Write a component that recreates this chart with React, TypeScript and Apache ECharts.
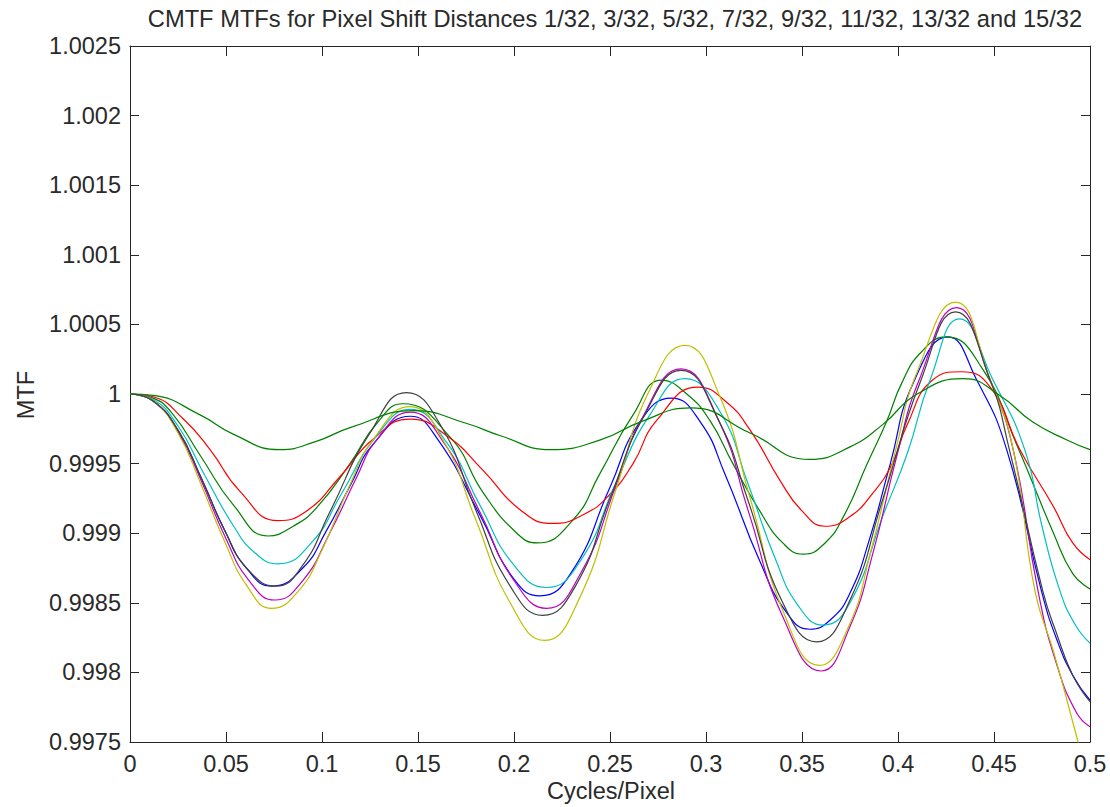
import React, { useEffect, useRef } from 'react';
import * as echarts from 'echarts';

const titleText = 'CMTF MTFs for Pixel Shift Distances 1/32, 3/32, 5/32, 7/32, 9/32, 11/32, 13/32 and 15/32';
const xAxisTitle = 'Cycles/Pixel';
const yAxisTitle = 'MTF';

const xTickLabels = ['0', '0.05', '0.1', '0.15', '0.2', '0.25', '0.3', '0.35', '0.4', '0.45', '0.5'];
const yTickLabels = ['0.9975', '0.998', '0.9985', '0.999', '0.9995', '1', '1.0005', '1.001', '1.0015', '1.002', '1.0025'];

type Pt = [number, number];

const greenFlat: Pt[] = [
  [0, 1], [0.012, 0.99999], [0.0365, 0.99985], [0.054, 0.99971], [0.078, 0.9996], [0.097, 0.99966],
  [0.115, 0.99976], [0.148, 0.99988], [0.175, 0.99979], [0.193, 0.9997], [0.219, 0.9996], [0.245, 0.99967],
  [0.266, 0.9998], [0.292, 0.9999], [0.323, 0.99972], [0.354, 0.99953], [0.375, 0.99962], [0.392, 0.99978],
  [0.41, 1.0], [0.434, 1.00011], [0.453, 0.99999], [0.47, 0.9998], [0.488, 0.99967], [0.5, 0.9996],
];

const red: Pt[] = [
  [0, 1], [0.012, 0.99998], [0.0278, 0.99982], [0.0417, 0.9996], [0.0573, 0.9993], [0.077, 0.99909],
  [0.092, 0.99916], [0.109, 0.9994], [0.127, 0.99968], [0.146, 0.99982], [0.165, 0.9997], [0.184, 0.99945],
  [0.203, 0.99917], [0.22, 0.99907], [0.237, 0.99914], [0.25, 0.99928], [0.262, 0.9995], [0.2743, 0.99981],
  [0.296, 1.00005], [0.31, 0.99995], [0.323, 0.99974], [0.3385, 0.99938], [0.35, 0.99916], [0.362, 0.99905],
  [0.375, 0.99912], [0.387, 0.99929], [0.397, 0.9995], [0.4045, 0.99977], [0.418, 1.0001], [0.433, 1.00016],
  [0.448, 1.00005], [0.4635, 0.9996], [0.481, 0.99919], [0.491, 0.99893], [0.5, 0.99881],
];

const greenSteep: Pt[] = [
  [0, 1], [0.012, 0.99997], [0.022, 0.99986], [0.0365, 0.99956], [0.054, 0.9992], [0.072, 0.99898],
  [0.085, 0.99905], [0.097, 0.99918], [0.1146, 0.9995], [0.1286, 0.99979], [0.142, 0.99993], [0.1667, 0.99969],
  [0.184, 0.99929], [0.2015, 0.999], [0.212, 0.99893], [0.231, 0.9991], [0.2448, 0.99943], [0.262, 0.99985],
  [0.277, 1.0001], [0.29, 1.0], [0.302, 0.99981], [0.314, 0.9995], [0.328, 0.99916], [0.34, 0.99893],
  [0.3507, 0.99885], [0.362, 0.99893], [0.372, 0.99913], [0.384, 0.9995], [0.394, 0.9998], [0.402, 1.00008],
  [0.412, 1.0003], [0.425, 1.00041], [0.444, 1.00018], [0.462, 0.99963], [0.481, 0.999], [0.491, 0.99871],
  [0.5, 0.9986],
];

const cyan: Pt[] = [
  [0, 1], [0.012, 0.99996], [0.025, 0.99977], [0.038, 0.99944], [0.054, 0.99905], [0.065, 0.99886],
  [0.077, 0.99878], [0.095, 0.99894], [0.11, 0.99928], [0.128, 0.99969], [0.146, 0.99989], [0.165, 0.99965],
  [0.1823, 0.9992], [0.2, 0.99877], [0.217, 0.99861], [0.235, 0.99881], [0.2536, 0.99938], [0.2708, 0.99985],
  [0.289, 1.00011], [0.307, 0.99988], [0.322, 0.99935], [0.336, 0.99882], [0.348, 0.99848], [0.361, 0.99834],
  [0.375, 0.9985], [0.392, 0.99912], [0.405, 0.99958], [0.4167, 1.0001], [0.432, 1.00054], [0.4495, 1.0001],
  [0.466, 0.9996], [0.475, 0.99905], [0.484, 0.9986], [0.492, 0.99835], [0.5, 0.99821],
];

const blue: Pt[] = [
  [0, 1], [0.012, 0.99995], [0.025, 0.99974], [0.037, 0.9994], [0.049, 0.99903], [0.06, 0.99876],
  [0.074, 0.99862], [0.09, 0.99875], [0.1024, 0.99902], [0.115, 0.99935], [0.1267, 0.99964], [0.146, 0.99984],
  [0.16, 0.99968], [0.1823, 0.99913], [0.2, 0.99867], [0.2135, 0.99855], [0.23, 0.99872], [0.25, 0.99933],
  [0.2656, 0.9998], [0.282, 0.99997], [0.297, 0.9998], [0.31, 0.99942], [0.328, 0.9988], [0.342, 0.99843],
  [0.354, 0.99831], [0.365, 0.99838], [0.375, 0.99857], [0.385, 0.99895], [0.396, 0.9995], [0.408, 1.00008],
  [0.426, 1.00041], [0.441, 1.0001], [0.4566, 0.9996], [0.4748, 0.99858], [0.4826, 0.99824], [0.491, 0.99798],
  [0.5, 0.9978],
];

const darkGray: Pt[] = [
  [0, 1], [0.012, 0.99995], [0.025, 0.99974], [0.037, 0.9994], [0.05, 0.999], [0.062, 0.99873],
  [0.076, 0.99862], [0.09, 0.99877], [0.104, 0.99915], [0.125, 0.99972], [0.144, 1.00001], [0.162, 0.99977],
  [0.18, 0.99917], [0.198, 0.99862], [0.215, 0.99841], [0.232, 0.99862], [0.25, 0.99925], [0.268, 0.99985],
  [0.287, 1.00017], [0.3066, 0.99981], [0.322, 0.99923], [0.34, 0.9985], [0.3576, 0.99822], [0.375, 0.99852],
  [0.392, 0.99924], [0.412, 1.0001], [0.43, 1.00059], [0.448, 1.0001], [0.458, 0.9996], [0.4755, 0.99858],
  [0.4826, 0.99828], [0.491, 0.99798], [0.5, 0.99779],
];

const magenta: Pt[] = [
  [0, 1], [0.012, 0.99995], [0.025, 0.99973], [0.037, 0.99938], [0.05, 0.99896], [0.062, 0.99866],
  [0.0755, 0.99852], [0.09, 0.99866], [0.104, 0.999], [0.118, 0.9994], [0.1285, 0.99967], [0.146, 0.99987],
  [0.163, 0.99966], [0.1823, 0.99915], [0.2, 0.99866], [0.217, 0.99846], [0.235, 0.99872], [0.2536, 0.99936],
  [0.2665, 0.99982], [0.287, 1.00018], [0.3066, 0.99981], [0.322, 0.99916], [0.34, 0.9984], [0.36, 0.99801],
  [0.375, 0.99833], [0.387, 0.99886], [0.3993, 0.99955], [0.411, 1.0001], [0.4305, 1.00062], [0.448, 1.0001],
  [0.46, 0.9996], [0.473, 0.99858], [0.4826, 0.99806], [0.493, 0.99771], [0.5, 0.99761],
];

const yellow: Pt[] = [
  [0, 1], [0.012, 0.99995], [0.025, 0.99972], [0.037, 0.99935], [0.049, 0.99895], [0.061, 0.99862],
  [0.0738, 0.99846], [0.088, 0.99859], [0.1, 0.99888], [0.114, 0.99933], [0.127, 0.99968], [0.1458, 0.99991],
  [0.163, 0.99967], [0.18, 0.9991], [0.198, 0.9985], [0.216, 0.99823], [0.234, 0.99853], [0.253, 0.99931],
  [0.27, 1.00001], [0.289, 1.00035], [0.307, 0.99999], [0.323, 0.99925], [0.341, 0.99841], [0.359, 0.99805],
  [0.374, 0.99832], [0.386, 0.99888], [0.399, 0.99961], [0.41, 1.00016], [0.43, 1.00066], [0.448, 1.0001],
  [0.46, 0.9996], [0.4714, 0.99858], [0.481, 0.99815], [0.4938, 0.9975], [0.5, 0.99718],
];

const curves: { name: string; color: string; data: Pt[] }[] = [
  { name: 'blue', color: '#0000ff', data: blue },
  { name: 'greenSteep', color: '#008000', data: greenSteep },
  { name: 'red', color: '#ff0000', data: red },
  { name: 'cyan', color: '#00bfbf', data: cyan },
  { name: 'magenta', color: '#bf00bf', data: magenta },
  { name: 'yellow', color: '#bfbf00', data: yellow },
  { name: 'darkGray', color: '#404040', data: darkGray },
  { name: 'greenFlat', color: '#008000', data: greenFlat },
];

export default function App() {
  const ref = useRef<HTMLDivElement>(null);
  useEffect(() => {
    document.body.style.margin = '0';
    const chart = echarts.init(ref.current!, null, { renderer: 'svg' });
    const font = "'Liberation Sans', Arial, Helvetica, sans-serif";
    const ink = '#2a2a2a';
    const lineStyle = { color: '#262626', width: 1 };
    const xFmt = (v: number) => xTickLabels[Math.round(v / 0.05)] ?? '';
    const yFmt = (v: number) => yTickLabels[Math.round((v - 0.9975) / 0.0005)] ?? '';
    const xBase = {
      type: 'value', min: 0, max: 0.5, interval: 0.05,
      axisLine: { show: true, onZero: false, lineStyle },
      axisTick: { show: true, inside: true, length: 10, lineStyle },
      splitLine: { show: false },
    };
    const yBase = {
      type: 'value', min: 0.9975, max: 1.0025, interval: 0.0005,
      axisLine: { show: true, onZero: false, lineStyle },
      axisTick: { show: true, inside: true, length: 9, lineStyle },
      splitLine: { show: false },
    };
    chart.setOption({
      animation: false,
      backgroundColor: '#ffffff',
      grid: { left: 130, top: 46, width: 960, height: 696 },
      xAxis: [
        {
          ...xBase, position: 'bottom',
          axisLabel: { show: true, margin: 10, fontSize: 23.5, color: ink, fontFamily: font, formatter: xFmt, showMinLabel: true, showMaxLabel: true },
        },
        { ...xBase, position: 'top', axisLabel: { show: false } },
      ],
      yAxis: [
        {
          ...yBase, position: 'left',
          axisLabel: { show: true, margin: 9, fontSize: 23.5, color: ink, fontFamily: font, formatter: yFmt, showMinLabel: true, showMaxLabel: true },
        },
        { ...yBase, position: 'right', axisLabel: { show: false } },
      ],
      series: curves.map((c) => ({
        name: c.name,
        type: 'line',
        xAxisIndex: 0,
        yAxisIndex: 0,
        data: c.data,
        smooth: 0.5,
        showSymbol: false,
        symbol: 'none',
        clip: true,
        lineStyle: { color: c.color, width: 1.2 },
        itemStyle: { color: c.color },
      })),
      graphic: [
        {
          type: 'text', x: 615, y: 19,
          style: { text: titleText, fontSize: 23.7, fontFamily: font, fill: ink, align: 'center', verticalAlign: 'middle' },
        },
        {
          type: 'text', x: 611, y: 791,
          style: { text: xAxisTitle, fontSize: 23.5, fontFamily: font, fill: ink, align: 'center', verticalAlign: 'middle' },
        },
        {
          type: 'text', x: 26, y: 395, rotation: Math.PI / 2,
          style: { text: yAxisTitle, fontSize: 23.5, fontFamily: font, fill: ink, align: 'center', verticalAlign: 'middle' },
        },
      ],
    });
    return () => chart.dispose();
  }, []);
  return <div ref={ref} style={{ width: 1110, height: 807 }} />;
}
